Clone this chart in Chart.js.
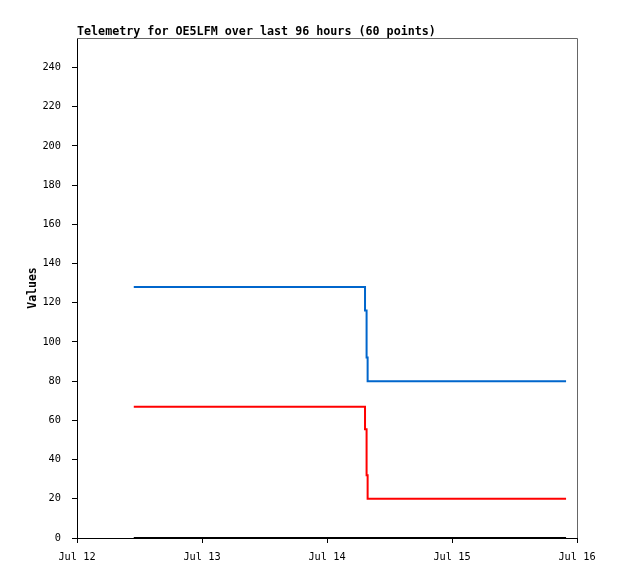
<!DOCTYPE html>
<html>
<head>
<meta charset="utf-8">
<script src="https://cdn.jsdelivr.net/npm/chart.js@4"></script>
<style>
  html, body { margin: 0; padding: 0; background: #fff; }
  #wrap { width: 618px; height: 579px; }
</style>
</head>
<body>
<div id="wrap"><canvas id="myChart" width="618" height="579"></canvas></div>
<script>
// hours since Jul 12 00:00
var hours = [10.9, 55.3, 55.6, 55.8, 93.9];
var blueValues = [128, 116, 92, 80, 80];
var redValues = [67, 55.5, 32, 20, 20];
var blackValues = [0, 0, 0, 0, 0];

var xTickHours = [0, 24, 48, 72, 96];
var xTickLabels = ['Jul 12', 'Jul 13', 'Jul 14', 'Jul 15', 'Jul 16'];
var yTickValues = [0, 20, 40, 60, 80, 100, 120, 140, 160, 180, 200, 220, 240];

var chartTitle = 'Telemetry for OE5LFM over last 96 hours (60 points)';

function pts(vals) {
    return vals.map(function(v, i) { return {x: hours[i], y: v}; });
}

const framePlugin = {
    id: 'frame',
    beforeDatasetsDraw: (chart) => {
        const {ctx, chartArea} = chart;
        ctx.save();
        ctx.strokeStyle = '#666666';
        ctx.lineWidth = 1;
        ctx.beginPath();
        ctx.moveTo(chartArea.left, chartArea.top + 0.5);
        ctx.lineTo(chartArea.right + 0.5, chartArea.top + 0.5);
        ctx.lineTo(chartArea.right + 0.5, chartArea.bottom);
        ctx.stroke();
        ctx.restore();
    },
    afterDraw: (chart) => {
        const {ctx, chartArea} = chart;
        ctx.save();
        ctx.fillStyle = '#000';
        ctx.font = 'bold 11.7px "DejaVu Sans Mono"';
        ctx.textAlign = 'left';
        ctx.textBaseline = 'alphabetic';
        ctx.fillText(chartTitle, chartArea.left, 35);
        ctx.restore();
    }
};

const mono = '"DejaVu Sans Mono", "Liberation Mono", monospace';

new Chart(document.getElementById('myChart'), {
    type: 'line',
    data: {
        datasets: [
            {
                label: 'blue',
                data: pts(blueValues),
                borderColor: '#0066cc',
                borderWidth: 2,
                pointRadius: 0,
                stepped: true,
                fill: false,
            },
            {
                label: 'red',
                data: pts(redValues),
                borderColor: '#ff0000',
                borderWidth: 2,
                pointRadius: 0,
                stepped: true,
                fill: false,
            },
            {
                label: 'black',
                data: pts(blackValues),
                borderColor: '#000000',
                borderWidth: 2,
                pointRadius: 0,
                stepped: true,
                fill: false,
            },
        ]
    },
    options: {
        responsive: false,
        animation: false,
        layout: { padding: { top: 38, right: 41, left: 0, bottom: 0 } },
        plugins: {
            legend: { display: false },
            title: { display: false },
            tooltip: { enabled: false },
        },
        scales: {
            x: {
                type: 'linear',
                min: 0,
                max: 96,
                afterBuildTicks: (scale) => {
                    scale.ticks = xTickHours.map(v => ({value: v}));
                },
                afterFit: (scale) => { scale.height = 41; },
                grid: {
                    display: true,
                    drawOnChartArea: false,
                    drawTicks: true,
                    tickLength: 5,
                    color: '#000',
                },
                border: { display: true, color: '#000', width: 1 },
                ticks: {
                    color: '#000',
                    font: { family: mono, size: 10.3 },
                    padding: 8,
                    maxRotation: 0,
                    autoSkip: false,
                    callback: (v, i) => xTickLabels[i],
                },
            },
            y: {
                min: 0,
                max: 255,
                afterBuildTicks: (scale) => {
                    scale.ticks = yTickValues.map(v => ({value: v}));
                },
                afterFit: (scale) => { scale.width = 77; },
                grid: {
                    display: true,
                    drawOnChartArea: false,
                    drawTicks: true,
                    tickLength: 5,
                    color: '#000',
                },
                border: { display: true, color: '#000', width: 1 },
                ticks: {
                    color: '#000',
                    font: { family: mono, size: 10.3 },
                    padding: 11,
                    autoSkip: false,
                },
                title: {
                    display: true,
                    text: 'Values',
                    color: '#000',
                    font: { family: mono, size: 11.5, weight: 'bold' },
                    padding: { top: 26, bottom: 0 },
                },
            },
        },
    },
    plugins: [framePlugin],
});
</script>
</body>
</html>
